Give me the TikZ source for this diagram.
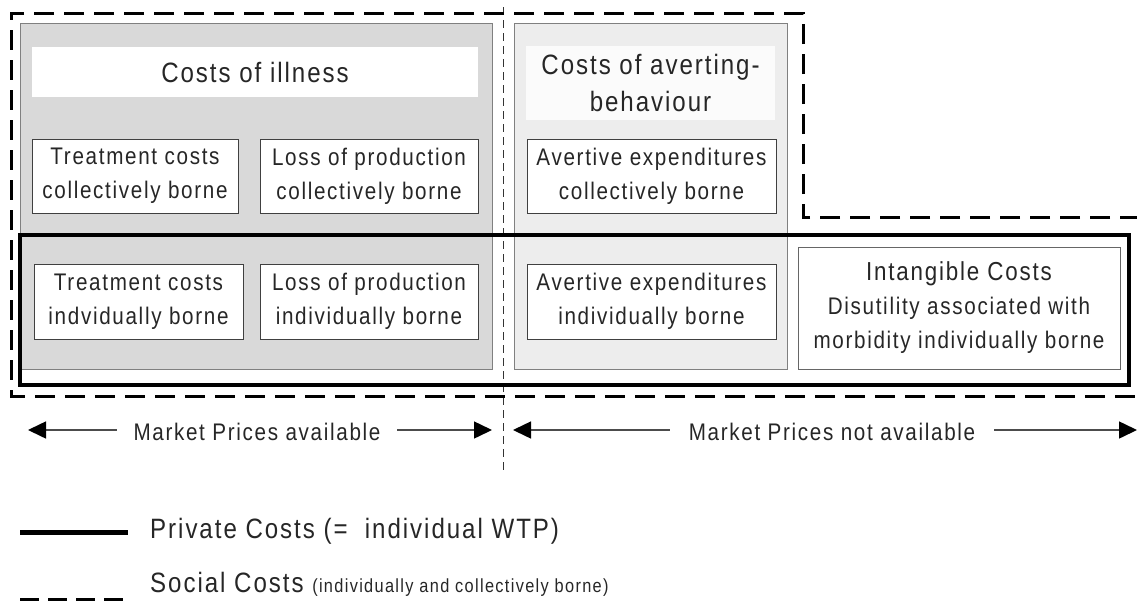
\documentclass[tikz,border=0pt]{standalone}
\usepackage{fontspec}
\setmainfont[FakeStretch=0.86,LetterSpace=7]{Liberation Sans}
\usetikzlibrary{arrows.meta}
\newcommand{\boxfont}{\fontsize{24}{34}\selectfont}
\newcommand{\titlefont}{\fontsize{28}{37}\selectfont}
\begin{document}
\begin{tikzpicture}[x=1pt,y=-1pt,
  txt/.style={text=black!85},
  graybox/.style={draw=black!50, line width=1pt, inner sep=0pt},
  titlearea/.style={fill=white, draw=none, inner sep=0pt, align=center, font=\titlefont, text=black!85},
  smallbox/.style={draw=black!75, fill=white, line width=1pt, inner sep=0pt, align=center, font=\boxfont, text=black!85},
  privateline/.style={draw=black, line width=4.5pt},
  socialline/.style={draw=black, line width=3pt, dash pattern=on 20pt off 10pt},
  divider/.style={draw=black!80, line width=1pt, dash pattern=on 8pt off 5pt},
  mplabel/.style={inner sep=0pt, font=\boxfont, text=black!85},
  mparrow/.style={draw=black!70, line width=1.5pt, -{Triangle[length=18pt,width=17pt,color=black,fill=black]}},
]
\useasboundingbox (0,0) rectangle (1137,608);

% grey panels
\node[graybox, fill=gray!30, minimum width=472pt, minimum height=346pt] (g1) at (256,196) {};
\node[graybox, fill=gray!14, minimum width=273pt, minimum height=346pt] (g2) at (650.5,196) {};

% titles
\node[titlearea, minimum width=446pt, minimum height=50pt] (t1) at (255,72) {Costs of illness};
\node[titlearea, fill=white!97!gray, minimum width=249pt, minimum height=74pt] (t2) at (650.5,83) {Costs of averting-\\behaviour};

% divider between market price regions
\coordinate (dtop) at (503,7);
\coordinate (dbot) at (503,470);
\draw[divider] (dtop) -- (dbot);

% social costs (dashed outline)
\coordinate (s1) at (1140,217);
\coordinate (s2) at (803,217);
\coordinate (s3) at (803,13);
\coordinate (s4) at (11,13);
\coordinate (s5) at (11,396);
\coordinate (s6) at (1140,396);
\draw[socialline] (s1) -- (s2) -- (s3) -- (s4) -- (s5) -- (s6);

% private costs (thick outline)
\coordinate (p1) at (20,235);
\coordinate (p2) at (1129,385);
\draw[privateline] (p1) rectangle (p2);

% collectively borne
\node[smallbox, minimum width=206pt, minimum height=74pt] (tc1) at (135,176) {Treatment costs\\collectively borne};
\node[smallbox, minimum width=218pt, minimum height=74pt] (lp1) at (369,176) {Loss of production\\collectively borne};
\node[smallbox, minimum width=249pt, minimum height=74pt] (ae1) at (651.5,176) {Avertive expenditures\\collectively borne};

% individually borne
\node[smallbox, minimum width=209pt, minimum height=75pt] (tc2) at (138.5,301.5) {Treatment costs\\indvidually borne};
\node[smallbox, minimum width=218pt, minimum height=75pt] (lp2) at (369,301.5) {Loss of production\\individually borne};
\node[smallbox, minimum width=249pt, minimum height=75pt] (ae2) at (651.5,301.5) {Avertive expenditures\\individually borne};
\node[smallbox, draw=black!60, minimum width=322pt, minimum height=122pt] (ic) at (959,308) {{\fontsize{26}{34}\selectfont Intangible Costs}\\Disutility associated with\\morbidity individually borne};

% market price arrows
\node[mplabel, minimum width=280pt] (mp1) at (257,432) {Market Prices available};
\coordinate (mp1l) at (28,430);
\coordinate (mp1r) at (492,430);
\draw[mparrow] ([yshift=2pt]mp1.west) -- (mp1l);
\draw[mparrow] ([yshift=2pt]mp1.east) -- (mp1r);

\node[mplabel, minimum width=324pt] (mp2) at (832,432) {Market Prices not available};
\coordinate (mp2l) at (513,430);
\coordinate (mp2r) at (1137,430);
\draw[mparrow] ([yshift=2pt]mp2.west) -- (mp2l);
\draw[mparrow] ([yshift=2pt]mp2.east) -- (mp2r);

% legend
\coordinate (l1a) at (20,532);
\coordinate (l1b) at (128,532);
\draw[draw=black, line width=5pt] (l1a) -- (l1b);
\node[anchor=base west, inner sep=0pt, txt, font=\titlefont] (leg1) at (150,538) {Private Costs (=~~individual WTP)};

\coordinate (l2a) at (20,599);
\coordinate (l2b) at (123,599);
\draw[draw=black, line width=3pt, dash pattern=on 19pt off 9pt] (l2a) -- (l2b);
\node[anchor=base west, inner sep=0pt, txt, font=\titlefont] (leg2) at (150,592) {Social Costs {\fontsize{19}{22}\selectfont (individually and collectively borne)}};
\end{tikzpicture}
\end{document}
